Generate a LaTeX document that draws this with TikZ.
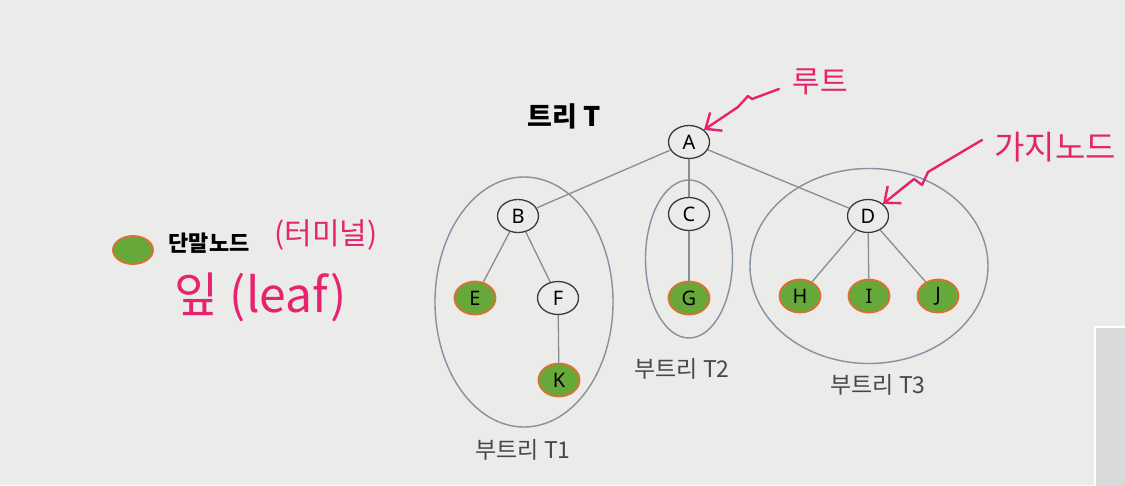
\documentclass[tikz,border=0pt]{standalone}
\usepackage{fontspec}
\setmainfont{Noto Sans}
\newfontfamily\kr{Noto Sans CJK KR}
\newfontfamily\krhand{Noto Sans CJK KR}
\usetikzlibrary{shapes.geometric,arrows.meta}
\definecolor{bg}{HTML}{EBEBE9}
\definecolor{leafgreen}{HTML}{67A83B}
\definecolor{leafedge}{HTML}{DB7030}
\definecolor{edgegray}{HTML}{8C8C8C}
\definecolor{grpgray}{HTML}{8491A0}
\definecolor{pen}{HTML}{E5236E}
\definecolor{nodeedge}{HTML}{3A3A3A}
\definecolor{boxgray}{HTML}{D9D9D9}
\tikzset{
  tnode/.style={ellipse, draw=nodeedge, line width=1.3pt, minimum width=41pt, minimum height=33pt, inner sep=0pt, font=\fontsize{20}{20}\selectfont},
  leafnode/.style={tnode, fill=leafgreen, draw=leafedge, line width=1.8pt},
  link/.style={draw=edgegray, line width=1.3pt},
  grp/.style={ellipse, draw=grpgray, line width=1.4pt, inner sep=0pt},
  sublabel/.style={font=\kr\fontsize{23}{23}\selectfont, text=black!72},
  hand/.style={font=\krhand\fontsize{30}{30}\selectfont, text=pen},
  penarrow/.style={draw=pen, line width=2.4pt, line cap=round, line join=round, -{Straight Barb[length=13pt,width=22pt,line width=2.4pt]}}
}
\begin{document}
\begin{tikzpicture}[x=1pt,y=-1pt]
\fill[bg] (0,0) rectangle (1125,485);
\useasboundingbox (0,0) rectangle (1125,485);
% right-bottom grey box
\node[draw=white, line width=2pt, fill=boxgray, minimum width=40pt, minimum height=165pt, inner sep=0pt, anchor=north west] (box) at (1094,326) {};
% group ellipses
\node[grp, minimum width=178pt, minimum height=250pt] (T1) at (524,302) {};
\node[grp, minimum width=87pt, minimum height=158pt] (T2) at (689,259) {};
\node[grp, minimum width=238pt, minimum height=195pt] (T3) at (869,266) {};
% tree nodes
\node[tnode] (A) at (689,142) {A};
\node[tnode] (B) at (518,216) {B};
\node[tnode] (C) at (689,214) {C};
\node[tnode] (D) at (868,216) {D};
\node[leafnode] (E) at (475,298) {E};
\node[tnode] (F) at (558,298) {F};
\node[leafnode] (G) at (689,298) {G};
\node[leafnode] (H) at (800,296) {H};
\node[leafnode] (I) at (869,296) {I};
\node[leafnode] (J) at (938,296) {J};
\node[leafnode] (K) at (559,380) {K};
% edges
\draw[link] (A) -- (B);
\draw[link] (A) -- (C);
\draw[link] (A) -- (D);
\draw[link] (B) -- (E);
\draw[link] (B) -- (F);
\draw[link] (F) -- (K);
\draw[link] (C) -- (G);
\draw[link] (D) -- (H);
\draw[link] (D) -- (I);
\draw[link] (D) -- (J);
% labels
\node[font=\kr\bfseries\fontsize{27}{27}\selectfont] (title) at (564,116) {트리 T};
\node[sublabel] (l1) at (523,450) {부트리 T1};
\node[sublabel] (l2) at (682,369) {부트리 T2};
\node[sublabel] (l3) at (878,385) {부트리 T3};
% legend
\node[leafnode, minimum width=40pt, minimum height=28pt] (leg) at (133,250) {};
\node[font=\kr\bfseries\fontsize{22}{22}\selectfont, anchor=west] (legtext) at (165,243) {단말노드};
% handwritten notes
\node[hand, font=\krhand\fontsize{30}{30}\selectfont] (term) at (326,235) {(터미널)};
\node[hand, font=\krhand\fontsize{48}{48}\selectfont] (leaf) at (261,297) {잎 (leaf)};
\node[hand] (root) at (820,82) {루트};
\node[hand, font=\krhand\fontsize{33}{33}\selectfont] (branch) at (1055,147) {가지노드};
\coordinate (r0) at (779,89);
\coordinate (b0) at (982,140);
\draw[penarrow] (r0) -- (752,99) -- (748,96) -- (738,107) -- (A.north east);
\draw[penarrow] (b0) -- (928,172) -- (922,185) -- (914,179) -- (D.north east);
\end{tikzpicture}
\end{document}
